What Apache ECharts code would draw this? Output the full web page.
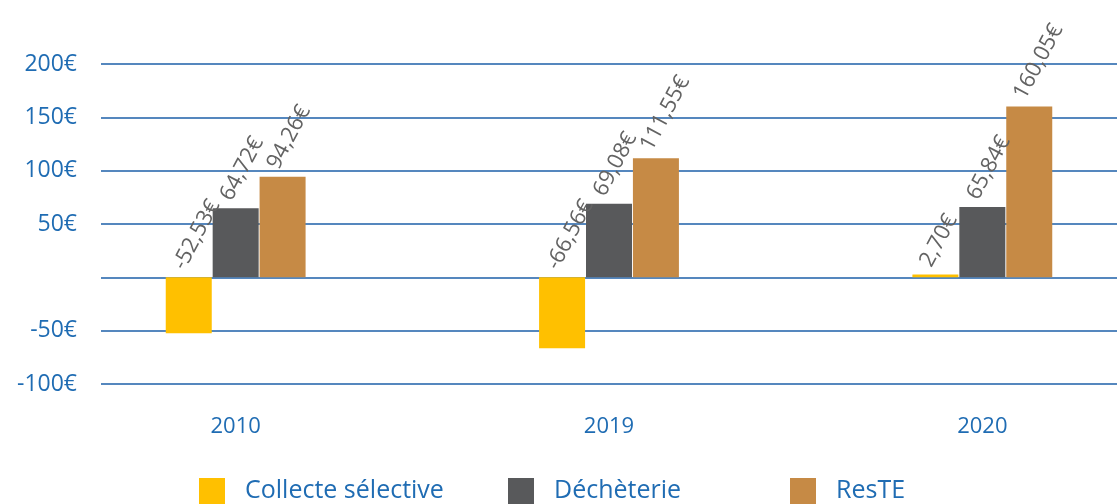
<!DOCTYPE html>
<html>
<head>
<meta charset="utf-8">
<script src="https://cdn.jsdelivr.net/npm/echarts@6/dist/echarts.min.js"></script>
<style>
  html, body { margin: 0; padding: 0; background: #ffffff; }
  #chart { width: 1117px; height: 504px; }
</style>
</head>
<body>
<div id="chart"></div>
<script>
// Years shown on the category axis
const years = ['2010', '2019', '2020'];

// Cost per service (€), one array per series
const collecteSelective = [-52.53, -66.56, 2.70];
const decheterie = [64.72, 69.08, 65.84];
const reste = [94.26, 111.55, 160.05];

const seriesNames = ['Collecte sélective', 'Déchèterie', 'ResTE'];
const seriesColors = ['#FFC000', '#58595B', '#C68A45'];

// Value axis range
const yMin = -100;
const yMax = 200;
const yStep = 50;

const FONT = 'Open Sans';
const BLUE = '#1F6CB3';
const GRID_LINE = '#1C5FA8';

function euro(v) {
  return v.toFixed(2).replace('.', ',') + '€';
}

const barLabel = {
  show: true,
  position: 'top',
  distance: 4,
  rotate: 62,
  align: 'left',
  verticalAlign: 'bottom',
  color: '#636363',
  fontFamily: FONT,
  fontSize: 22,
  formatter: (p) => euro(p.value)
};

function barSeries(name, data, color) {
  return {
    name: name,
    type: 'bar',
    xAxisIndex: 0,
    yAxisIndex: 0,
    data: data,
    barWidth: 46,
    barGap: '2%',
    itemStyle: { color: color },
    label: barLabel,
    z: 3
  };
}

const chart = echarts.init(document.getElementById('chart'), null, { renderer: 'canvas' });

chart.setOption({
  backgroundColor: '#ffffff',
  animation: false,
  grid: [
    // bars (band runs past the right edge so the groups sit wider apart)
    { left: 49, width: 1120, top: 64, bottom: 120, containLabel: false, outerBoundsMode: 'none' },
    // value scale and horizontal rules
    { left: 101, right: 0, top: 64, bottom: 120, containLabel: false, outerBoundsMode: 'none' }
  ],
  xAxis: [
    {
      type: 'category',
      gridIndex: 0,
      data: years,
      position: 'bottom',
      axisLine: { show: false },
      axisTick: { show: false },
      axisLabel: {
        margin: 32,
        color: BLUE,
        fontFamily: FONT,
        fontSize: 22
      }
    },
    { type: 'value', gridIndex: 1, show: false }
  ],
  yAxis: [
    {
      type: 'value',
      gridIndex: 0,
      min: yMin,
      max: yMax,
      interval: yStep,
      show: false
    },
    {
      type: 'value',
      gridIndex: 1,
      min: yMin,
      max: yMax,
      interval: yStep,
      axisLine: { show: false },
      axisTick: { show: false },
      axisLabel: {
        margin: 24,
        color: BLUE,
        fontFamily: FONT,
        fontSize: 23,
        formatter: (v) => (v === 0 ? '' : v + '€')
      },
      splitLine: {
        show: true,
        lineStyle: { color: GRID_LINE, width: 1.5 }
      }
    }
  ],
  legend: seriesNames.map((name, i) => ({
    data: [name],
    left: [199, 508, 790][i],
    top: 478,
    icon: 'rect',
    itemWidth: 26,
    itemHeight: 26,
    padding: 0,
    textStyle: {
      color: BLUE,
      fontFamily: FONT,
      fontSize: 25,
      padding: [4, 0, 0, 15]
    }
  })),
  series: [
    barSeries(seriesNames[0], collecteSelective, seriesColors[0]),
    barSeries(seriesNames[1], decheterie, seriesColors[1]),
    barSeries(seriesNames[2], reste, seriesColors[2])
  ]
});
</script>
</body>
</html>
